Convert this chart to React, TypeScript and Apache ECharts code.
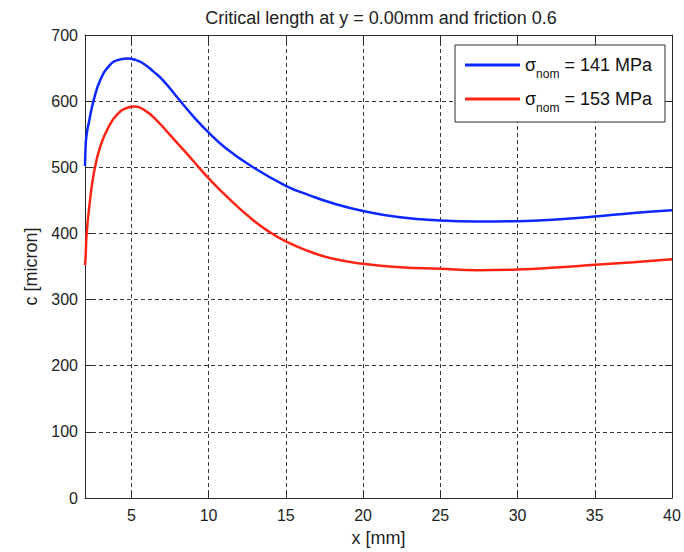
import React, { useEffect, useRef } from "react";
import * as echarts from "echarts";

const titleText = "Critical length at y = 0.00mm and friction 0.6";
const xName = "x [mm]";
const yName = "c [micron]";
const stresses = ["141", "153"];

const xBlue = [2.0, 2.03, 2.08, 2.26, 2.58, 3.01, 3.55, 4.09, 4.74, 5.3, 5.77, 6.42, 7.07, 8.1, 9.01, 9.98, 11.06, 12.68, 15, 16.5, 18, 20, 22.4, 25, 27.35, 30, 32.5, 35, 37.5, 40];
const yBlue = [502, 525, 545, 569, 603, 633, 653, 662, 664.5, 662, 657, 645, 631, 602, 577, 553, 530, 503, 472, 458, 446, 434, 424.5, 419.5, 418, 418.5, 421, 425.5, 431, 435];

const xRed = [2.0, 2.04, 2.1, 2.26, 2.58, 3.01, 3.55, 4.09, 4.74, 5.24, 5.88, 6.64, 7.5, 8.58, 9.44, 9.98, 11.17, 12.68, 13.76, 15, 16.5, 18, 20, 22.4, 25, 27.35, 30, 32.5, 35, 37.5, 40];
const yRed = [352, 365, 397, 437, 492, 533, 562, 580, 590, 592, 586, 571, 549, 521, 498, 484, 456, 424, 405, 388, 373, 362, 354, 349, 346.5, 344.5, 345.5, 348.5, 352.5, 356.5, 361];

const FONT = "Liberation Sans, Arial, sans-serif";

export default function App() {
  const ref = useRef<HTMLDivElement>(null);
  useEffect(() => {
    if (!ref.current) return;
    const chart = echarts.init(ref.current, null, { renderer: "svg" });
    const axisLineStyle = { color: "#2a2a2a", width: 1 };
    const splitStyle = { color: "#3a3a3a", width: 1, type: [4, 3] as any };
    const seriesNames = stresses.map((s) => `σnom = ${s} MPa`);
    chart.setOption({
      animation: false,
      backgroundColor: "#fff",
      textStyle: { fontFamily: FONT },
      title: {
        text: titleText,
        left: 376,
        top: 4,
        textAlign: "center",
        textStyle: { fontSize: 18, fontWeight: "normal", color: "#222", fontFamily: FONT },
      },
      legend: {
        orient: "vertical",
        left: 455,
        top: 45,
        icon: "rect",
        itemWidth: 55,
        itemHeight: 3,
        itemGap: 5,
        padding: [5.5, 13, 8.5, 10],
        borderColor: "#2a2a2a",
        borderWidth: 1,
        backgroundColor: "#fff",
        selectedMode: false,
        data: seriesNames,
        formatter: (name: string) => `{s|σ}{sub|nom}{t|${name.replace("σnom", "")}}`,
        textStyle: {
          color: "#111",
          fontFamily: FONT,
          rich: {
            s: { fontSize: 18, lineHeight: 20, color: "#111", fontFamily: FONT },
            t: { fontSize: 18, lineHeight: 20, color: "#111", fontFamily: FONT },
            sub: { fontSize: 12, lineHeight: 12, padding: [17, 0, 0, 0], color: "#111", fontFamily: FONT },
          },
        },
      },
      grid: { left: 85, right: 12, top: 35, bottom: 50 },
      xAxis: [
        {
          type: "value",
          min: 2,
          max: 40,
          splitNumber: 8,
          position: "bottom",
          name: xName,
          nameLocation: "middle",
          nameGap: 31,
          nameTextStyle: { fontSize: 18, color: "#222", fontFamily: FONT },
          axisLine: { show: true, onZero: false, lineStyle: axisLineStyle },
          axisTick: { show: true, inside: true, length: 7, lineStyle: axisLineStyle },
          axisLabel: {
            show: true,
            margin: 9,
            fontSize: 16,
            color: "#222",
            fontFamily: FONT,
            showMinLabel: false,
            formatter: (v: number) => (v === 2 ? "" : String(v)),
          },
          splitLine: { show: true, lineStyle: splitStyle },
        },
        {
          type: "value",
          min: 2,
          max: 40,
          splitNumber: 8,
          position: "top",
          axisLine: { show: true, onZero: false, lineStyle: axisLineStyle },
          axisTick: { show: true, inside: true, length: 7, lineStyle: axisLineStyle },
          axisLabel: { show: false },
          splitLine: { show: false },
        },
      ],
      yAxis: [
        {
          type: "value",
          min: 0,
          max: 700,
          interval: 100,
          position: "left",
          name: yName,
          nameLocation: "middle",
          nameGap: 44,
          nameTextStyle: { fontSize: 18, color: "#222", fontFamily: FONT },
          axisLine: { show: true, onZero: false, lineStyle: axisLineStyle },
          axisTick: { show: true, inside: true, length: 7, lineStyle: axisLineStyle },
          axisLabel: { show: true, margin: 7, fontSize: 16, color: "#222", fontFamily: FONT },
          splitLine: { show: true, lineStyle: splitStyle },
        },
        {
          type: "value",
          min: 0,
          max: 700,
          interval: 100,
          position: "right",
          axisLine: { show: true, onZero: false, lineStyle: axisLineStyle },
          axisTick: { show: true, inside: true, length: 7, lineStyle: axisLineStyle },
          axisLabel: { show: false },
          splitLine: { show: false },
        },
      ],
      series: [
        {
          name: seriesNames[0],
          type: "line",
          xAxisIndex: 0,
          yAxisIndex: 0,
          data: xBlue.map((x, i) => [x, yBlue[i]]),
          showSymbol: false,
          smooth: 0.5,
          color: "#0a28ff",
          lineStyle: { color: "#0a28ff", width: 2.5 },
        },
        {
          name: seriesNames[1],
          type: "line",
          xAxisIndex: 0,
          yAxisIndex: 0,
          data: xRed.map((x, i) => [x, yRed[i]]),
          showSymbol: false,
          smooth: 0.5,
          color: "#ff2414",
          lineStyle: { color: "#ff2414", width: 2.5 },
        },
      ],
    });
    return () => chart.dispose();
  }, []);
  return (
    <div
      ref={ref}
      style={{ position: "absolute", left: 0, top: 0, width: 684, height: 552, background: "#fff" }}
    />
  );
}
